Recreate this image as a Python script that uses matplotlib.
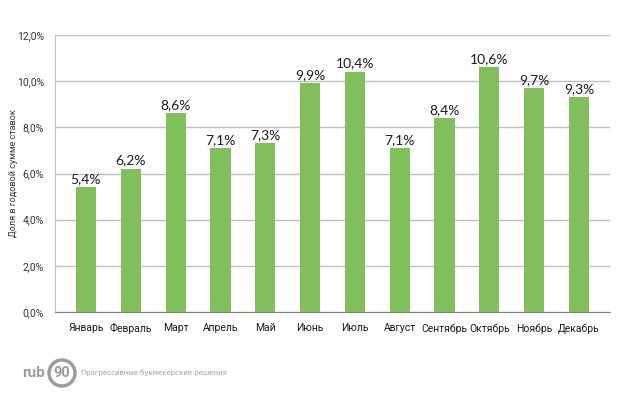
import matplotlib
matplotlib.use('Agg')
from matplotlib import pyplot as plt
from matplotlib.patches import Circle

months = ['Январь', 'Февраль', 'Март', 'Апрель', 'Май', 'Июнь', 'Июль',
          'Август', 'Сентябрь', 'Октябрь', 'Ноябрь', 'Декабрь']
shares = [5.4, 6.2, 8.6, 7.1, 7.3, 9.9, 10.4, 7.1, 8.4, 10.6, 9.7, 9.3]
yticks = [0, 2, 4, 6, 8, 10, 12]
ylabel = 'Доля в годовой сумме ставок'

fig = plt.figure(figsize=(6.18, 4.0), dpi=100)
ax = fig.add_axes([0.089, 0.22, 0.898, 0.6925])

x = range(len(months))
ax.bar(x, shares, width=0.45, color='#80bf5c', zorder=3)
for i, v in zip(x, shares):
    ax.text(i, v + 0.1, ('%.1f%%' % v).replace('.', ','), ha='center', va='bottom',
            fontsize=10, family='Lato', color='#1a1a1a')

ax.set_xlim(-0.69, len(months) - 0.31)
ax.set_ylim(0, 12)
ax.set_yticks(yticks)
ax.set_yticklabels(['%d,0%%' % t for t in yticks], fontsize=7.5, family='Roboto', color='#333333')
ax.set_xticks(list(x))
ax.set_xticklabels(months, fontsize=7.5, family='Roboto', color='#1a1a1a')
ax.tick_params(axis='x', length=0, pad=8)
ax.tick_params(axis='y', length=0, pad=8)
ax.grid(axis='y', color='#c0c0c0', linewidth=1, zorder=0)
for s in ['top', 'right']:
    ax.spines[s].set_visible(False)
ax.spines['left'].set_color('#c0c0c0')
ax.spines['bottom'].set_color('#808080')
ax.set_ylabel(ylabel, fontsize=6.5, family='Roboto', color='#333333')
ax.yaxis.set_label_coords(-0.066, 0.5)

# logo
fig.text(0.036, 0.0675, 'rub', fontsize=11, fontweight='bold', family='Roboto',
         color='#9a9ea1', va='center')
fig.text(0.1003, 0.0675, '90', fontsize=10.5, fontweight='bold', family='Roboto',
         color='#9a9ea1', va='center', ha='center')
fig.patches.append(Circle((62, 27), 13, transform=None, fill=False,
                          edgecolor='#9a9ea1', linewidth=2.5))
fig.text(0.131, 0.0675, 'Прогрессивные букмекерские решения', fontsize=5,
         color='#9a9ea1', va='center')

plt.savefig('out.png', dpi=100)
